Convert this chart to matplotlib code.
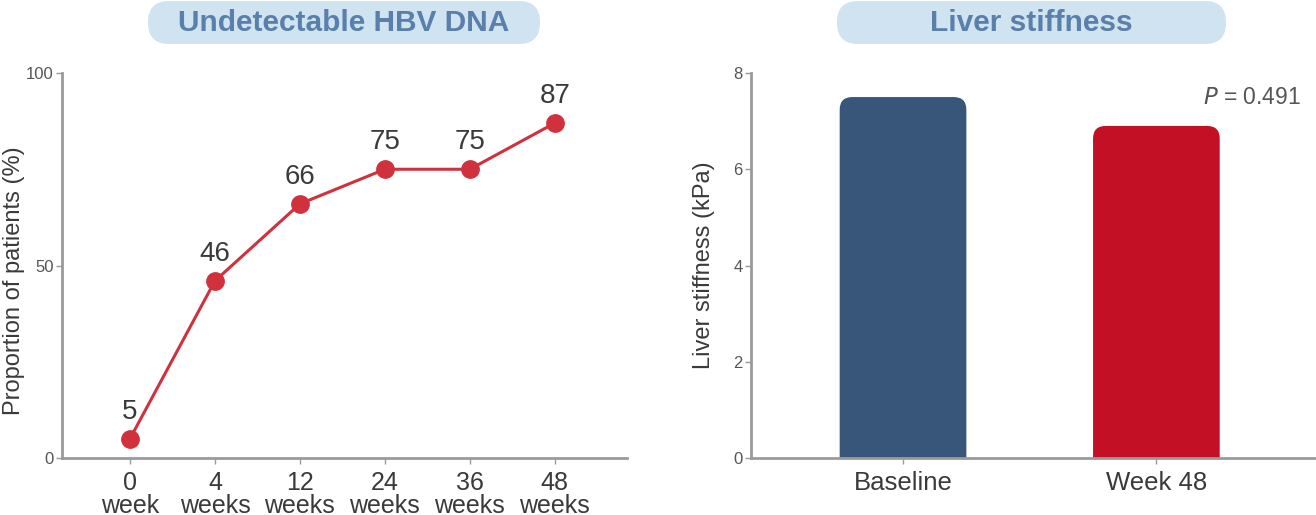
import matplotlib

matplotlib.use("Agg")
import matplotlib.pyplot as plt
from matplotlib.patches import FancyBboxPatch, PathPatch
from matplotlib.path import Path

# ---- data -----------------------------------------------------------------
weeks = ["0\nweek", "4\nweeks", "12\nweeks", "24\nweeks", "36\nweeks", "48\nweeks"]
undetectable = [5, 46, 66, 75, 75, 87]

groups = ["Baseline", "Week 48"]
stiffness = [7.5, 6.9]
p_value = "0.491"

RED = "#d0313d"
NAVY = "#38557a"
BAR_RED = "#c41025"
PILL = "#cfe3f0"
PILL_TXT = "#5a7fab"
INK = "#3a3a3a"
SPINE = "#9a9a9a"

plt.rcParams["font.family"] = ["Liberation Sans", "DejaVu Sans"]

W, H = 1316, 515
fig = plt.figure(figsize=(W / 100, H / 100), dpi=100)

# full-figure overlay in pixel units, for the title pills
over = fig.add_axes([0, 0, 1, 1], zorder=-1)
over.set_xlim(0, W)
over.set_ylim(H, 0)
over.axis("off")


def px_axes(x0, x1, ytop, ybot):
    return fig.add_axes([x0 / W, 1 - ybot / H, (x1 - x0) / W, (ybot - ytop) / H])


def style(ax):
    for s in ("top", "right"):
        ax.spines[s].set_visible(False)
    for s in ("left", "bottom"):
        ax.spines[s].set_color(SPINE)
        ax.spines[s].set_linewidth(2)
    ax.tick_params(axis="y", colors=SPINE, length=4, width=1, labelsize=12,
                   labelcolor="#555555", pad=2)
    ax.tick_params(axis="x", colors=SPINE, length=4, width=1, labelsize=18,
                   labelcolor=INK, pad=5)


def pill(x0, x1, text):
    over.add_patch(FancyBboxPatch(
        (x0, 1), x1 - x0, 43, boxstyle="round,pad=0,rounding_size=21",
        fc=PILL, ec="none"))
    over.text((x0 + x1) / 2, 23, text, ha="center", va="center",
              fontsize=21.5, fontweight="bold", color=PILL_TXT)


def top_rounded(x, y, w, h, rx, ry):
    verts = [(x, y), (x + w, y), (x + w, y + h - ry), (x + w, y + h),
             (x + w - rx, y + h), (x + rx, y + h), (x, y + h),
             (x, y + h - ry), (x, y)]
    codes = [Path.MOVETO, Path.LINETO, Path.LINETO, Path.CURVE3, Path.CURVE3,
             Path.LINETO, Path.CURVE3, Path.CURVE3, Path.CLOSEPOLY]
    return Path(verts, codes)


# ---- left panel: line --------------------------------------------------------
ax1 = px_axes(62, 627, 73, 458)
style(ax1)
xs = list(range(len(weeks)))
ax1.plot(xs, undetectable, color=RED, lw=2.2, marker="o", ms=12.5,
         mfc=RED, mec=RED, clip_on=False, zorder=3)
for x, v in zip(xs, undetectable):
    ax1.annotate(str(v), (x, v), xytext=(0, 10), textcoords="offset points",
                 ha="center", va="bottom", fontsize=20, color=INK)
ax1.set_xlim(-0.8, 5.85)
ax1.set_ylim(0, 100)
ax1.set_yticks([0, 50, 100])
ax1.set_xticks(xs)
ax1.set_xticklabels(weeks, linespacing=0.95)
ax1.set_ylabel("Proportion of patients (%)", fontsize=17, color=INK)
ax1.yaxis.set_label_coords(-0.066, 0.46)
pill(148, 540, "Undetectable HBV DNA")

# ---- right panel: bars -------------------------------------------------------
ax2 = px_axes(751, 1316, 73, 458)
style(ax2)
ax2.set_xlim(-0.6, 1.63)
ax2.set_ylim(0, 8)
bars = ax2.bar(range(len(groups)), stiffness, width=0.5, color=[NAVY, BAR_RED])
rx = 0.05
ry = rx * (8 / 385) / (2.23 / 565)  # same radius in pixels on both axes
for b in bars:
    b.set_visible(False)
    ax2.add_patch(PathPatch(
        top_rounded(b.get_x(), b.get_y(), b.get_width(), b.get_height(), rx, ry),
        fc=b.get_facecolor(), ec="none", zorder=2))
ax2.set_yticks([0, 2, 4, 6, 8])
ax2.set_xticks(range(len(groups)))
ax2.set_xticklabels(groups, fontsize=18.5)
ax2.set_ylabel("Liver stiffness (kPa)", fontsize=17, color=INK)
ax2.yaxis.set_label_coords(-0.064, 0.5)
ax2.text(1.57, 7.5, r"$\mathit{P}$ = " + p_value, ha="right", va="center",
         fontsize=16.5, color="#555555")
pill(837, 1226, "Liver stiffness")

fig.savefig("out.png", dpi=100, facecolor="white")
